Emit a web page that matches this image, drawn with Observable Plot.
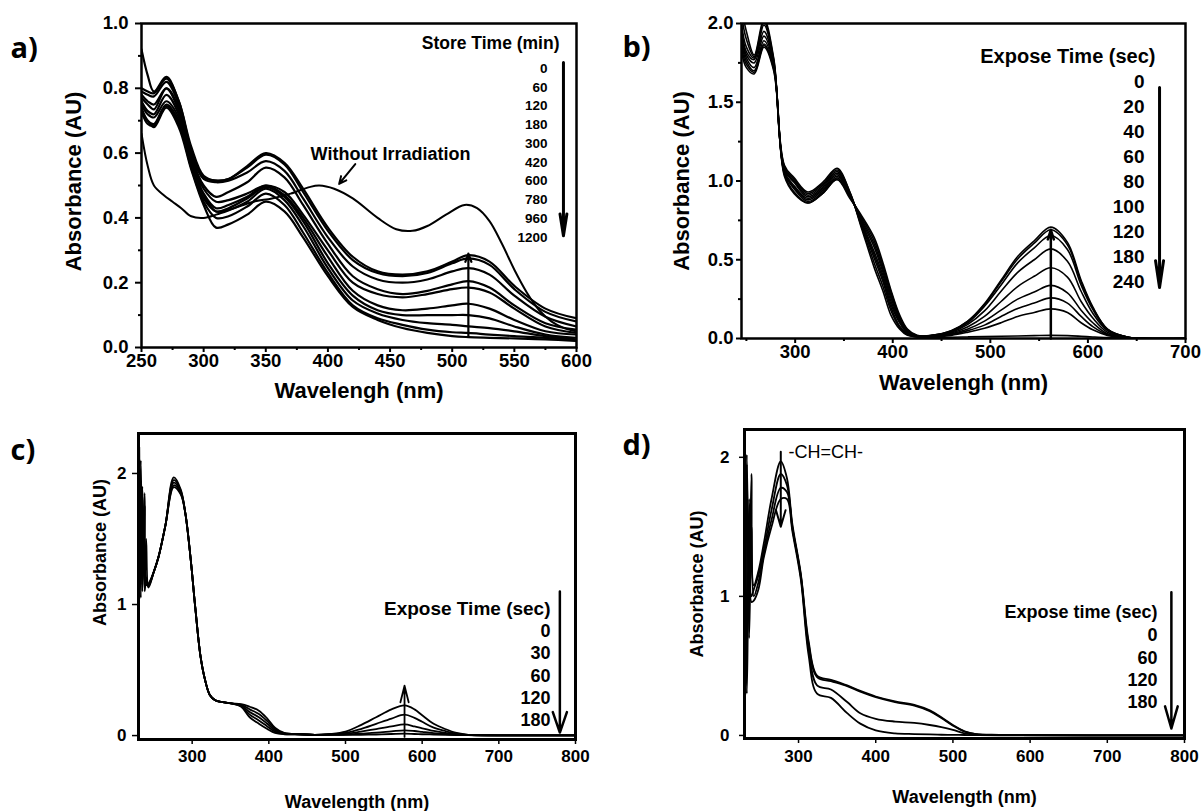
<!DOCTYPE html>
<html><head><meta charset="utf-8">
<script src="https://cdn.jsdelivr.net/npm/d3@7"></script>
<script src="https://cdn.jsdelivr.net/npm/@observablehq/plot@0.6"></script>
<style>
html,body{margin:0;padding:0;background:#fff;}
#wrap{position:relative;width:1201px;height:811px;overflow:hidden;background:#fff;}
</style></head><body><div id="wrap"></div>
<script>
// ---------------- Panel a) : store time (min) ----------------
const aWavelength = [250,255,260,270,280,290,300,310,320,335,350,365,380,400,420,440,460,480,500,513,530,550,575,600];
const aStoreTimes = ["0","60","120","180","300","420","600","780","960","1200"];
const aAbsorbance = [
  [0.92,0.84,0.79,0.835,0.76,0.62,0.53,0.515,0.52,0.56,0.60,0.57,0.49,0.37,0.28,0.235,0.225,0.235,0.265,0.285,0.265,0.19,0.12,0.09],
  [0.80,0.79,0.785,0.83,0.76,0.61,0.525,0.515,0.52,0.555,0.595,0.565,0.48,0.36,0.27,0.23,0.22,0.23,0.26,0.275,0.255,0.18,0.11,0.08],
  [0.79,0.78,0.775,0.82,0.75,0.60,0.52,0.51,0.515,0.54,0.575,0.545,0.46,0.34,0.25,0.21,0.20,0.21,0.235,0.245,0.225,0.16,0.095,0.065],
  [0.78,0.76,0.75,0.80,0.74,0.59,0.50,0.465,0.48,0.51,0.555,0.525,0.44,0.32,0.22,0.18,0.165,0.175,0.195,0.205,0.185,0.13,0.075,0.055],
  [0.77,0.75,0.735,0.80,0.73,0.58,0.49,0.45,0.455,0.475,0.50,0.48,0.41,0.30,0.20,0.165,0.155,0.165,0.18,0.185,0.17,0.12,0.065,0.045],
  [0.76,0.73,0.72,0.78,0.72,0.575,0.475,0.43,0.44,0.465,0.50,0.47,0.40,0.28,0.175,0.13,0.115,0.12,0.13,0.135,0.12,0.085,0.05,0.04],
  [0.75,0.72,0.71,0.76,0.71,0.57,0.47,0.42,0.43,0.46,0.495,0.465,0.39,0.26,0.16,0.115,0.10,0.10,0.10,0.10,0.09,0.065,0.04,0.03],
  [0.74,0.70,0.69,0.75,0.70,0.56,0.46,0.42,0.425,0.45,0.49,0.455,0.375,0.245,0.145,0.105,0.085,0.075,0.07,0.065,0.06,0.05,0.035,0.025],
  [0.73,0.69,0.685,0.745,0.69,0.555,0.45,0.40,0.405,0.435,0.475,0.44,0.355,0.23,0.13,0.09,0.07,0.055,0.047,0.045,0.04,0.035,0.03,0.022],
  [0.72,0.70,0.68,0.74,0.68,0.55,0.44,0.37,0.38,0.41,0.45,0.42,0.34,0.22,0.125,0.085,0.06,0.045,0.035,0.032,0.03,0.028,0.025,0.02]
];
const aNoIrrWavelength = [250,255,260,268,275,282,290,300,310,325,340,355,370,385,393,405,420,440,455,468,480,495,510,520,530,540,550,560,570,580,590,600];
const aNoIrrAbsorbance = [0.66,0.56,0.50,0.47,0.45,0.43,0.405,0.40,0.41,0.43,0.45,0.46,0.475,0.495,0.50,0.49,0.46,0.40,0.365,0.36,0.375,0.41,0.44,0.43,0.39,0.32,0.24,0.17,0.115,0.08,0.06,0.05];
const aXTicks = [250,300,350,400,450,500,550,600];
const aXMinor = [275,325,375,425,475,525,575];
const aYTicks = [0,0.2,0.4,0.6,0.8,1.0];
const aYMinor = [0.1,0.3,0.5,0.7,0.9];

// ---------------- Panel b) : expose time (sec) ----------------
const bWavelength = [245,250,258,268,278,289,299,313,328,343,356,368,381,390,398,407,415,425,440,460,477,494,511,528,545,562,579,593,605,620,640,660,700];
const bExposeTimes = ["0","20","40","60","80","100","120","180","240"];
const bAbsorbance = [
  [2.1,1.95,1.80,2.03,1.78,1.10,1.02,0.93,0.99,1.08,0.93,0.70,0.45,0.30,0.15,0.06,0.02,0.01, 0.005,0.008,0.01,0.012,0.014,0.016,0.018,0.02,0.018,0.014,0.01,0.006,0.004,0.002,0.0],
  [2.05,1.9,1.79,2.01,1.77,1.09,1.01,0.92,0.98,1.07,0.93,0.71,0.48,0.33,0.18,0.07,0.025,0.01, 0.01,0.02,0.04,0.065,0.10,0.14,0.165,0.188,0.165,0.10,0.055,0.02,0.005,0,0],
  [2.0,1.85,1.78,1.99,1.76,1.08,1.0,0.91,0.97,1.06,0.92,0.72,0.51,0.36,0.20,0.08,0.03,0.012, 0.01,0.025,0.05,0.085,0.14,0.19,0.225,0.258,0.225,0.14,0.075,0.025,0.005,0,0],
  [1.98,1.82,1.77,1.95,1.75,1.07,0.99,0.90,0.96,1.05,0.92,0.73,0.53,0.38,0.22,0.10,0.035,0.013, 0.012,0.03,0.06,0.11,0.18,0.25,0.295,0.337,0.29,0.18,0.10,0.03,0.006,0,0],
  [1.95,1.8,1.75,1.92,1.74,1.06,0.97,0.89,0.95,1.04,0.91,0.74,0.55,0.40,0.24,0.11,0.04,0.014, 0.015,0.035,0.075,0.14,0.235,0.33,0.395,0.449,0.39,0.235,0.13,0.04,0.008,0,0],
  [1.92,1.78,1.72,1.89,1.73,1.05,0.96,0.88,0.94,1.03,0.91,0.75,0.58,0.42,0.26,0.12,0.045,0.015, 0.015,0.04,0.09,0.175,0.30,0.42,0.50,0.569,0.49,0.30,0.16,0.05,0.01,0,0],
  [1.88,1.76,1.70,1.87,1.72,1.05,0.95,0.87,0.93,1.02,0.90,0.76,0.60,0.44,0.28,0.13,0.05,0.016, 0.02,0.045,0.10,0.205,0.34,0.48,0.575,0.654,0.565,0.34,0.185,0.055,0.01,0,0],
  [1.85,1.74,1.69,1.86,1.71,1.04,0.93,0.86,0.92,1.01,0.90,0.77,0.62,0.46,0.30,0.14,0.055,0.018, 0.02,0.05,0.11,0.215,0.36,0.505,0.605,0.69,0.595,0.36,0.195,0.06,0.01,0,0],
  [1.82,1.72,1.68,1.85,1.70,1.03,0.92,0.86,0.92,1.01,0.89,0.78,0.64,0.48,0.31,0.15,0.06,0.02, 0.02,0.05,0.11,0.22,0.37,0.52,0.62,0.707,0.61,0.37,0.20,0.06,0.01,0,0]
];
const bXTicks = [300,400,500,600,700];
const bXMinor = [250,350,450,550,650];
const bYTicks = [0,0.5,1.0,1.5,2.0];
const bYMinor = [0.25,0.75,1.25,1.75];

// ---------------- Panel c) : expose time (sec) ----------------
const cWavelength = [231,233,235,238,240,243,250,256,265,276,285,291,298,304,311,317,323,330,340,351,364,375,387,398,408,420,440,460,480,500,520,540,560,577,590,600,615,630,645,660,700,800];
const cExposeTimes = ["0","30","60","120","180"];
const cAbsorbance = [
  [2.2,1.05,1.9,1.2,1.15,1.16,1.25,1.36,1.6,1.97,1.88,1.70,1.35,0.98,0.6,0.42,0.31,0.27,0.255,0.245,0.24,0.22,0.19,0.13,0.06,0.02,0.01,0.006,0.005,0.005,0.006,0.008,0.012,0.015,0.012,0.01,0.008,0.006,0.004,0.003,0.002,0.001],
  [1.1,2.1,1.3,1.85,1.2,1.15,1.25,1.36,1.6,1.95,1.87,1.70,1.35,0.98,0.6,0.42,0.31,0.27,0.255,0.245,0.235,0.20,0.165,0.11,0.05,0.018,0.01,0.006,0.006,0.008,0.015,0.022,0.032,0.04,0.035,0.028,0.018,0.012,0.006,0.003,0.002,0.001],
  [1.9,1.2,1.85,1.15,1.5,1.14,1.25,1.36,1.6,1.93,1.86,1.70,1.35,0.98,0.6,0.42,0.31,0.27,0.255,0.245,0.23,0.18,0.14,0.09,0.04,0.015,0.01,0.006,0.008,0.012,0.03,0.05,0.07,0.085,0.07,0.055,0.035,0.02,0.01,0.004,0.002,0.001],
  [1.3,1.9,1.1,1.75,1.15,1.15,1.25,1.36,1.6,1.91,1.85,1.70,1.35,0.98,0.6,0.42,0.31,0.27,0.255,0.245,0.225,0.16,0.115,0.07,0.03,0.012,0.01,0.006,0.01,0.02,0.05,0.09,0.13,0.16,0.135,0.105,0.06,0.035,0.015,0.005,0.002,0.001],
  [1.6,1.15,1.8,1.1,1.2,1.13,1.25,1.36,1.6,1.895,1.84,1.70,1.35,0.98,0.6,0.42,0.31,0.27,0.255,0.245,0.22,0.14,0.09,0.05,0.02,0.01,0.01,0.006,0.012,0.03,0.08,0.14,0.2,0.23,0.2,0.155,0.09,0.05,0.02,0.006,0.002,0.001]
];
const cXTicks = [300,400,500,600,700,800];
const cYTicks = [0,1,2];

// ---------------- Panel d) : expose time (sec) ----------------
const dWavelength = [231,233,236,239,242,248,255,265,277,285,292,303,313,324,342,363,380,400,425,450,470,485,500,515,530,560,800];
const dExposeTimes = ["0","60","120","180"];
const dAbsorbance = [
  [0.35,2.02,0.9,1.88,1.08,1.18,1.38,1.70,1.97,1.85,1.52,1.16,0.68,0.43,0.40,0.36,0.32,0.28,0.245,0.22,0.18,0.13,0.075,0.03,0.01,0.004,0],
  [1.9,0.5,1.7,1.0,1.05,1.15,1.33,1.62,1.88,1.80,1.50,1.15,0.66,0.42,0.39,0.355,0.315,0.275,0.24,0.215,0.175,0.125,0.07,0.028,0.01,0.004,0],
  [0.6,1.95,0.7,1.5,1.0,1.1,1.3,1.55,1.78,1.75,1.49,1.14,0.62,0.36,0.33,0.24,0.16,0.12,0.10,0.09,0.075,0.06,0.04,0.015,0.005,0.002,0],
  [1.5,0.3,1.2,0.96,0.97,1.05,1.28,1.5,1.70,1.70,1.47,1.12,0.58,0.30,0.27,0.16,0.085,0.036,0.015,0.01,0.007,0.005,0.004,0.003,0.002,0.001,0]
];
const dXTicks = [300,400,500,600,700,800];
const dYTicks = [0,1,2];

// ---------------- annotations ----------------
const aPeakArrow = [{x: 513, y1: 0.035, y2: 0.29}];
const aLegendArrow = [{x: 589.5, y1: 0.88, y2: 0.345}];
const aNoIrrArrow = [{x1: 422, y1: 0.566, x2: 409, y2: 0.505}];
const bPeakArrow = [{x: 562, y1: 0.0, y2: 0.69}];
const bLegendArrow = [{x: 673.4, y1: 1.594, y2: 0.324}];
const cPeakArrow = [{x: 577, y1: -0.01, y2: 0.38}];
const cLegendArrow = [{x: 779.6, y1: 1.099, y2: 0.023}];
const dPeakArrow = [{x: 277, y1: 2.04, y2: 1.5}];
const dLegendArrow = [{x: 783, y1: 1.029, y2: 0.05}];

const FONT = "'Liberation Sans', Arial, Helvetica, sans-serif";
const LETTER_FONT = "'Open Sans', 'Noto Sans', sans-serif";
const wrap = document.getElementById("wrap");

function tidy(names, wl, values) {
  return names.flatMap((n, i) => wl.map((w, j) => ({series: n, wl: w, abs: values[i][j]})));
}
function place(svg, left, top) {
  svg.style.position = "absolute";
  svg.style.left = left + "px";
  svg.style.top = top + "px";
  svg.style.maxWidth = "none";
  svg.style.overflow = "visible";
  wrap.appendChild(svg);
}
const baseStyle = {fontFamily: FONT, fontWeight: "bold", color: "black", background: "transparent", overflow: "visible"};
function txt(s, opts) { return Plot.text([s], {text: d => d, fill: "black", lineAnchor: "middle", ...opts}); }
function ylab(s, opts) { return txt(s, {frameAnchor: "left", textAnchor: "middle", rotate: -90, ...opts}); }
function arrow(data, opts) { return Plot.arrow(data, {x1: "x", x2: "x", y1: "y1", y2: "y2", stroke: "black", ...opts}); }

// ---- a)
const plotA = Plot.plot({
  width: 600, height: 405,
  marginLeft: 141, marginRight: 24, marginTop: 23, marginBottom: 58,
  style: baseStyle,
  x: {domain: [250, 600], axis: null, label: null, inset: 0},
  y: {domain: [0, 1], axis: null, label: null, inset: 0},
  marks: [
    Plot.line(tidy(aStoreTimes, aWavelength, aAbsorbance), {x: "wl", y: "abs", z: "series", curve: "catmull-rom", stroke: "black", strokeWidth: 2.2, clip: true}),
    Plot.line(aNoIrrWavelength.map((w, j) => ({wl: w, abs: aNoIrrAbsorbance[j]})), {x: "wl", y: "abs", curve: "catmull-rom", stroke: "black", strokeWidth: 2, clip: true}),
    arrow(aPeakArrow, {strokeWidth: 2.2, headLength: 6, headAngle: 40}),
    arrow(aLegendArrow, {strokeWidth: 3, headLength: 11, headAngle: 18}),
    Plot.arrow(aNoIrrArrow, {x1: "x1", y1: "y1", x2: "x2", y2: "y2", stroke: "black", strokeWidth: 2, headLength: 6, headAngle: 50}),
    Plot.frame({strokeWidth: 2.5, stroke: "black"}),
    Plot.axisX(aXTicks, {anchor: "bottom", tickSize: 5, tickPadding: 1, strokeWidth: 2, fontSize: 18.5, fontWeight: "bold", tickFormat: d3.format("d"), label: null}),
    Plot.axisX(aXMinor, {anchor: "bottom", tickSize: 3, strokeWidth: 2, fill: "none", label: null}),
    Plot.axisY(aYTicks, {anchor: "left", tickSize: 6, tickPadding: 7, strokeWidth: 2, fontSize: 18.5, fontWeight: "bold", tickFormat: d3.format(".1f"), label: null}),
    Plot.axisY(aYMinor, {anchor: "left", tickSize: 3, strokeWidth: 2, fill: "none", label: null}),
    txt("Wavelengh (nm)", {frameAnchor: "bottom", dy: 43, fontSize: 22, fontWeight: "bold"}),
    ylab("Absorbance (AU)", {dx: -68, dy: -4, fontSize: 22, fontWeight: "bold"}),
    txt("a)", {frameAnchor: "top-left", textAnchor: "start", dx: -131, dy: 25, fontSize: 29, fontWeight: "bold", fontFamily: LETTER_FONT}),
    txt("Store Time (min)", {frameAnchor: "top-right", textAnchor: "end", dx: -17, dy: 20, fontSize: 17.5, fontWeight: "bold"}),
    txt(aStoreTimes.join("\n"), {frameAnchor: "top-right", textAnchor: "end", lineAnchor: "top", dx: -29, dy: 36, fontSize: 13.5, lineHeight: 1.39, fontWeight: "bold"}),
    txt("Without Irradiation", {frameAnchor: "top-left", textAnchor: "middle", dx: 249, dy: 131, fontSize: 18, fontWeight: "bold"})
  ]
});
place(plotA, 0, 0);

// ---- b)
const plotB = Plot.plot({
  width: 601, height: 405,
  marginLeft: 141, marginRight: 16, marginTop: 23, marginBottom: 67,
  style: baseStyle,
  x: {domain: [245, 700], axis: null, label: null, inset: 0},
  y: {domain: [0, 2], axis: null, label: null, inset: 0},
  marks: [
    Plot.line(tidy(bExposeTimes, bWavelength, bAbsorbance), {x: "wl", y: "abs", z: "series", curve: "catmull-rom", stroke: "black", strokeWidth: 1.6, clip: true}),
    arrow(bPeakArrow, {strokeWidth: 2.5, headLength: 6, headAngle: 35}),
    arrow(bLegendArrow, {strokeWidth: 3, headLength: 13.5, headAngle: 17}),
    Plot.frame({strokeWidth: 2.5, stroke: "black"}),
    Plot.axisX(bXTicks, {anchor: "bottom", tickSize: 5, tickPadding: 1, strokeWidth: 2, fontSize: 18.5, fontWeight: "bold", tickFormat: d3.format("d"), label: null}),
    Plot.axisX(bXMinor, {anchor: "bottom", tickSize: 3, strokeWidth: 2, fill: "none", label: null}),
    Plot.axisY(bYTicks, {anchor: "left", tickSize: 5, tickPadding: 3, strokeWidth: 2, fontSize: 18.5, fontWeight: "bold", tickFormat: d3.format(".1f"), label: null}),
    Plot.axisY(bYMinor, {anchor: "left", tickSize: 3, strokeWidth: 2, fill: "none", label: null}),
    txt("Wavelengh (nm)", {frameAnchor: "bottom", dy: 44, fontSize: 22, fontWeight: "bold"}),
    ylab("Absorbance (AU)", {dx: -60, dy: 0, fontSize: 22, fontWeight: "bold"}),
    txt("b)", {frameAnchor: "top-left", textAnchor: "start", dx: -119, dy: 24, fontSize: 29, fontWeight: "bold", fontFamily: LETTER_FONT}),
    txt("Expose Time (sec)", {frameAnchor: "top-right", textAnchor: "end", dx: -30, dy: 33, fontSize: 20, fontWeight: "bold"}),
    txt(bExposeTimes.join("\n"), {frameAnchor: "top-right", textAnchor: "end", lineAnchor: "top", dx: -41, dy: 47, fontSize: 19, lineHeight: 1.316, fontWeight: "bold"})
  ]
});
place(plotB, 600, 0);

// ---- c)
const plotC = Plot.plot({
  width: 600, height: 406,
  marginLeft: 138, marginRight: 25, marginTop: 28, marginBottom: 72,
  style: baseStyle,
  x: {domain: [230, 800], axis: null, label: null, inset: 0},
  y: {domain: [-0.03, 2.305], axis: null, label: null, inset: 0},
  marks: [
    Plot.line(tidy(cExposeTimes, cWavelength, cAbsorbance), {x: "wl", y: "abs", z: "series", curve: "catmull-rom", stroke: "black", strokeWidth: 1.8, clip: true}),
    arrow(cPeakArrow, {strokeWidth: 1.8, headLength: 16, headAngle: 28}),
    arrow(cLegendArrow, {strokeWidth: 2.5, headLength: 13, headAngle: 38}),
    Plot.frame({strokeWidth: 3, stroke: "black"}),
    Plot.axisX(cXTicks, {anchor: "bottom", tickSize: 5, tickPadding: 5, strokeWidth: 1.5, fontSize: 17, fontWeight: "bold", tickFormat: d3.format("d"), label: null}),
    Plot.axisY(cYTicks, {anchor: "left", tickSize: 6, tickPadding: 6, strokeWidth: 1.5, fontSize: 17, fontWeight: "bold", tickFormat: d3.format("d"), label: null}),
    txt("Wavelength (nm)", {frameAnchor: "bottom", dy: 63, fontSize: 18, fontWeight: "bold"}),
    ylab("Absorbance (AU)", {dx: -38, dy: -34, fontSize: 18, fontWeight: "bold"}),
    txt("c)", {frameAnchor: "top-left", textAnchor: "start", dx: -128, dy: 17, fontSize: 29, fontWeight: "bold", fontFamily: LETTER_FONT}),
    txt("Expose Time (sec)", {frameAnchor: "top-right", textAnchor: "end", dx: -25, dy: 175, fontSize: 19, fontWeight: "bold"}),
    txt(cExposeTimes.join("\n"), {frameAnchor: "top-right", textAnchor: "end", lineAnchor: "top", dx: -25, dy: 188, fontSize: 18, lineHeight: 1.233, fontWeight: "bold"})
  ]
});
place(plotC, 0, 405);

// ---- d)
const plotD = Plot.plot({
  width: 601, height: 406,
  marginLeft: 144, marginRight: 17, marginTop: 24, marginBottom: 73,
  style: baseStyle,
  x: {domain: [230, 800], axis: null, label: null, inset: 0},
  y: {domain: [-0.022, 2.2], axis: null, label: null, inset: 0},
  marks: [
    Plot.line(tidy(dExposeTimes, dWavelength, dAbsorbance), {x: "wl", y: "abs", z: "series", curve: "catmull-rom", stroke: "black", strokeWidth: 1.8, clip: true}),
    arrow(dPeakArrow, {strokeWidth: 2, headLength: 13, headAngle: 32}),
    arrow(dLegendArrow, {strokeWidth: 2.5, headLength: 13.8, headAngle: 32}),
    Plot.frame({strokeWidth: 3, stroke: "black"}),
    Plot.axisX(dXTicks, {anchor: "bottom", tickSize: 5, tickPadding: 6, strokeWidth: 1.5, fontSize: 17, fontWeight: "bold", tickFormat: d3.format("d"), label: null}),
    Plot.axisY(dYTicks, {anchor: "left", tickSize: 5, tickPadding: 10, strokeWidth: 1.5, fontSize: 17, fontWeight: "bold", tickFormat: d3.format("d"), label: null}),
    txt("Wavelength (nm)", {frameAnchor: "bottom", dy: 59, fontSize: 18, fontWeight: "bold"}),
    ylab("Absorbance (AU)", {dx: -47, dy: 0, fontSize: 18, fontWeight: "bold"}),
    txt("d)", {frameAnchor: "top-left", textAnchor: "start", dx: -122, dy: 16, fontSize: 29, fontWeight: "bold", fontFamily: LETTER_FONT}),
    txt("-CH=CH-", {frameAnchor: "top-left", textAnchor: "start", dx: 44, dy: 23, fontSize: 18, fontWeight: "normal"}),
    txt("Expose time (sec)", {frameAnchor: "top-right", textAnchor: "end", dx: -27, dy: 183, fontSize: 18, fontWeight: "bold"}),
    txt(dExposeTimes.join("\n"), {frameAnchor: "top-right", textAnchor: "end", lineAnchor: "top", dx: -27, dy: 196, fontSize: 18, lineHeight: 1.24, fontWeight: "bold"})
  ]
});
place(plotD, 600, 405);
</script></body></html>
